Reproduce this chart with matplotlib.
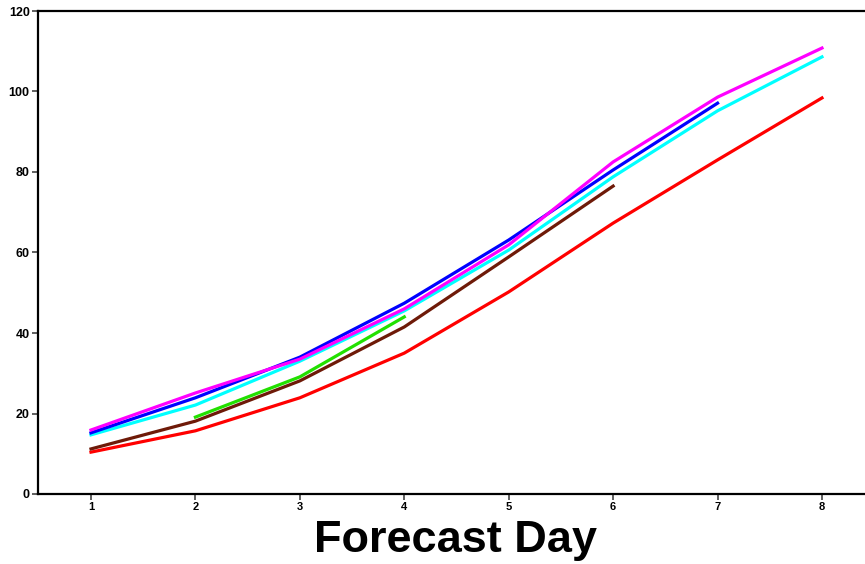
import matplotlib
matplotlib.use("Agg")
import matplotlib.pyplot as plt

plt.rcParams['font.family'] = ['Liberation Sans', 'DejaVu Sans']

days = [1, 2, 3, 4, 5, 6, 7, 8]
series_red = [10.4, 15.7, 23.9, 35.0, 50.2, 67.3, 83.0, 98.4]
series_brown = [11.2, 18.1, 28.1, 41.5, 58.9, 76.5]
series_green = [None, 19.1, 29.1, 44.0]
series_cyan = [14.7, 22.1, 33.0, 45.5, 60.6, 78.8, 95.2, 108.6]
series_blue = [15.2, 23.9, 34.0, 47.4, 63.1, 80.5, 97.1]
series_magenta = [15.9, 25.1, 33.5, 46.0, 61.9, 82.5, 98.6, 110.8]

yticks = [0, 20, 40, 60, 80, 100, 120]

W, H = 865, 564
fig = plt.figure(figsize=(W / 100, H / 100), dpi=100)
ax = fig.add_axes([38 / W, 70 / H, 827 / W, 483 / H])

lw = 2.3
ax.plot(days[:8], series_red, color='#FF0000', lw=lw)
ax.plot(days[:6], series_brown, color='#6E1A08', lw=lw)
ax.plot(days[1:4], series_green[1:4], color='#22E000', lw=lw)
ax.plot(days[:8], series_cyan, color='#00FFFF', lw=lw)
ax.plot(days[:7], series_blue, color='#0000FF', lw=lw)
ax.plot(days[:8], series_magenta, color='#FF00FF', lw=lw)

ax.set_xlim(0.4925, 8.412)
ax.set_ylim(0, 120)
ax.set_xticks(days)
ax.set_xticklabels([str(d) for d in days], fontsize=8, fontweight='bold')
ax.set_yticks(yticks)
ax.set_yticklabels([str(v) for v in yticks], fontsize=9, fontweight='bold')
ax.tick_params(axis='both', direction='out', length=4, width=1.2, color='#444444', pad=2)

for s in ['left', 'top', 'bottom']:
    ax.spines[s].set_linewidth(1.6)
    ax.spines[s].set_color('black')
ax.spines['right'].set_visible(False)

fig.text(456 / W, 1 - 552 / H, 'Forecast Day', fontsize=32.5, fontweight='bold',
         ha='center', va='baseline')

fig.savefig('out.png', dpi=100)
